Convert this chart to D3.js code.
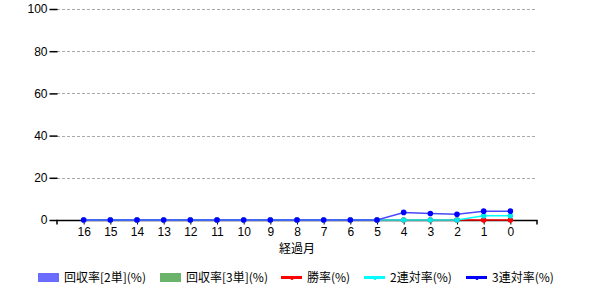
<!DOCTYPE html>
<html>
<head>
<meta charset="utf-8">
<script src="https://cdn.jsdelivr.net/npm/d3@7"></script>
<style>
body{margin:0;background:#fff;}
text{font-family:"Liberation Sans",Arial,"Noto Sans CJK JP",sans-serif;}
</style>
</head>
<body>
<div id="chart"></div>
<script>
// 経過月 (months elapsed)
let months = ['16','15','14','13','12','11','10','9','8','7','6','5','4','3','2','1','0'];
let kaishu2 = [0,0,0,0,0,0,0,0,0,0,0,0,0,0,0,0,0];
let kaishu3 = [0,0,0,0,0,0,0,0,0,0,0,0,0,0,0,0,0];
let shoritsu = [0,0,0,0,0,0,0,0,0,0,0,0,0,0,0,0,0];
let rentai2 = [0,0,0,0,0,0,0,0,0,0,0,0,0,0,0,2.0,2.0];
let rentai3 = [0,0,0,0,0,0,0,0,0,0,0,0,3.6,3.1,2.7,4.2,4.2];
let yTicks = [0,20,40,60,80,100];

let width = 600, height = 300;
let padding = {left:57, right:63, top:9, bottom:80};

let svg = d3.select('#chart').append('svg')
    .attr('width',width)
    .attr('height',height);

// one empty slot on each side like the original
let slots = d3.range(months.length + 1);
let xEdge = d3.scaleLinear()
    .domain([0, months.length + 1])
    .range([padding.left, width - padding.right]);
let x = function(i){ return xEdge(i + 1); };

let y = d3.scaleLinear()
    .domain([0,100])
    .range([height - padding.bottom, padding.top]);

// grid
svg.append('g')
    .selectAll('line')
    .data(yTicks.filter(function(d){ return d > 0; }))
    .enter()
    .append('line')
    .attr('x1',padding.left)
    .attr('x2',width - padding.right)
    .attr('y1',function(d){ return Math.round(y(d)) + 0.5; })
    .attr('y2',function(d){ return Math.round(y(d)) + 0.5; })
    .attr('stroke','#aaa')
    .attr('stroke-dasharray','3,2');

// bars (all zero)
let bw = 8;
svg.append('g').selectAll('rect')
    .data(kaishu2).enter().append('rect')
    .attr('x',function(d,i){ return x(i) - bw; })
    .attr('y',function(d){ return y(d); })
    .attr('width',bw)
    .attr('height',function(d){ return y(0) - y(d); })
    .attr('fill','#6b6bff');
svg.append('g').selectAll('rect')
    .data(kaishu3).enter().append('rect')
    .attr('x',function(d,i){ return x(i); })
    .attr('y',function(d){ return y(d); })
    .attr('width',bw)
    .attr('height',function(d){ return y(0) - y(d); })
    .attr('fill','#6bb36b');

// y axis
let yAxis = d3.axisLeft(y)
    .tickValues(yTicks)
    .tickSize(8)
    .tickPadding(2);
let gy = svg.append('g')
    .attr('transform','translate(' + (padding.left + 0.5) + ',0)')
    .call(yAxis);
gy.select('.domain').remove();
gy.selectAll('line').attr('stroke','#000').attr('stroke-width',1.5);
gy.selectAll('text').attr('font-size',12).attr('fill','#000');

// x axis
let xAxis = d3.axisBottom(xEdge)
    .tickValues(slots.slice(1))
    .tickSize(4)
    .tickPadding(3)
    .tickFormat(function(d){ return months[d - 1] !== undefined ? months[d - 1] : ''; });
let gx = svg.append('g')
    .attr('transform','translate(0,' + (y(0) + 0.5) + ')')
    .call(xAxis);
gx.select('.domain')
    .attr('d','M' + padding.left + ',4V0H' + (width - padding.right) + 'V4')
    .attr('stroke','#000').attr('stroke-width',1.5);
gx.selectAll('line').attr('stroke','#000');
gx.selectAll('text').attr('font-size',12).attr('fill','#000');
gx.selectAll('.tick').filter(function(d){ return d === months.length + 1; }).select('text').remove();

svg.append('text')
    .attr('x',(padding.left + width - padding.right)/2)
    .attr('y',253)
    .attr('text-anchor','middle')
    .attr('font-size',12)
    .style('font-family','"Noto Sans CJK JP",sans-serif')
    .text('経過月');

// lines
let series = [
    {name:'勝率(%)', data:shoritsu, line:'#ff0000', dot:'#ff0000'},
    {name:'2連対率(%)', data:rentai2, line:'#00ffff', dot:'#00e8e8'},
    {name:'3連対率(%)', data:rentai3, line:'#4848ff', dot:'#0000ff'}
];
let line = d3.line()
    .x(function(d,i){ return x(i); })
    .y(function(d){ return y(d); });

series.forEach(function(s){
    svg.append('path')
        .attr('d',line(s.data))
        .attr('fill','none')
        .attr('stroke',s.line)
        .attr('stroke-width',1.5);
    svg.append('g').selectAll('circle')
        .data(s.data).enter().append('circle')
        .attr('cx',function(d,i){ return x(i); })
        .attr('cy',function(d){ return y(d); })
        .attr('r',2.8)
        .attr('fill',s.dot);
});

// legend
let legendItems = [
    {name:'回収率[2単](%)', type:'rect', color:'#6b6bff', x:38},
    {name:'回収率[3単](%)', type:'rect', color:'#6bb36b', x:160},
    {name:'勝率(%)', type:'line', color:'#ff0000', x:281},
    {name:'2連対率(%)', type:'line', color:'#00ffff', x:364},
    {name:'3連対率(%)', type:'line', color:'#0000ff', x:466}
];
let lg = svg.append('g').selectAll('g')
    .data(legendItems).enter().append('g')
    .attr('transform',function(d){ return 'translate(' + d.x + ',277)'; });
lg.filter(function(d){ return d.type === 'rect'; })
    .append('rect')
    .attr('x',0).attr('y',-4).attr('width',21).attr('height',9)
    .attr('fill',function(d){ return d.color; });
lg.filter(function(d){ return d.type === 'line'; })
    .append('line')
    .attr('x1',0).attr('x2',21).attr('y1',0.5).attr('y2',0.5)
    .attr('stroke',function(d){ return d.color; })
    .attr('stroke-width',3);
lg.filter(function(d){ return d.type === 'line'; })
    .append('circle')
    .attr('cx',11).attr('cy',1.5).attr('r',1.5)
    .attr('fill',function(d){ return d.color; });
lg.append('text')
    .attr('x',26)
    .attr('y',5)
    .attr('font-size',12)
    .style('font-family','"Noto Sans CJK JP",sans-serif')
    .attr('fill','#000')
    .text(function(d){ return d.name; });
</script>
</body>
</html>
